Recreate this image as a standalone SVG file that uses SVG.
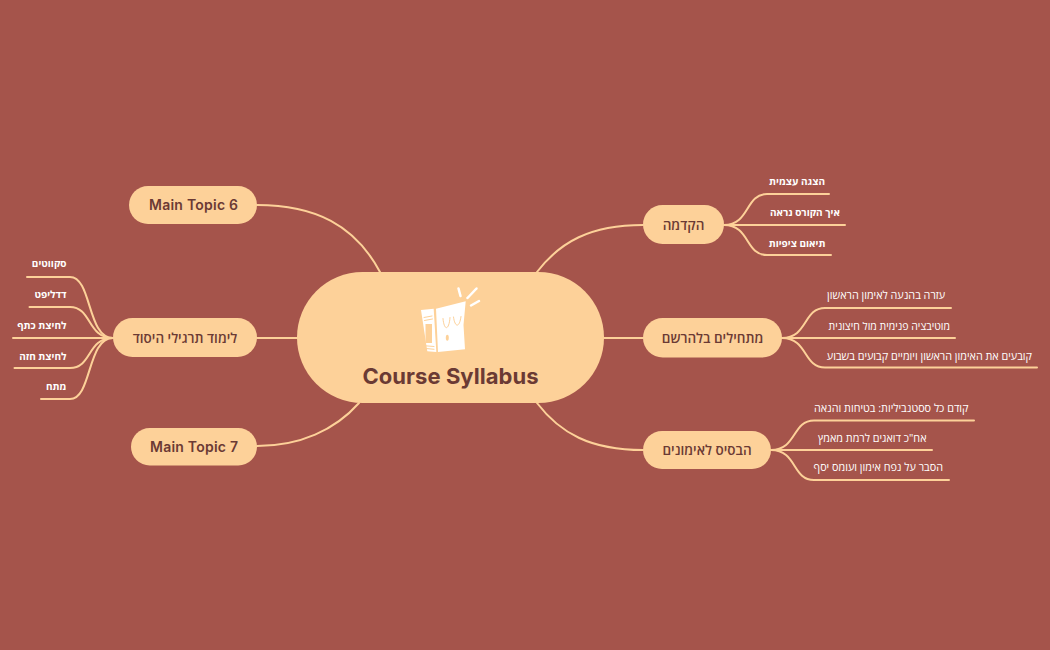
<svg xmlns="http://www.w3.org/2000/svg" width="1050" height="650" viewBox="0 0 1050 650">
<style>
.c{fill:none;stroke:#FDD199;stroke-width:2;stroke-linecap:round}
.b{fill:#FDD199}
.t{font-family:"Open Sans","Noto Sans","Liberation Sans",sans-serif;font-size:13.5px;font-weight:600;fill:#6B3A34;direction:rtl;text-anchor:middle}
.m{font-family:Inter,"Noto Sans",sans-serif;font-size:14px;font-weight:600;fill:#6B3A34;text-anchor:middle}
.l{font-family:"Open Sans","Noto Sans","Liberation Sans",sans-serif;font-size:10.800px;fill:#FFF;direction:rtl;text-anchor:start}
.lb{font-weight:700;font-size:10px}
.w{fill:#FFF}
.o{fill:none;stroke:#FDD199;stroke-width:1;stroke-linecap:round}
</style>
<rect width="1050" height="650" fill="#A5544B"/>
<g id="connectors">
<path class="c" d="M604 338H643"/>
<path class="c" d="M297 338H257"/>
<path class="c" d="M537 272C560 242 590 225 643 225"/>
<path class="c" d="M537 403C560 433 590 450 643 450"/>
<path class="c" d="M380 272C355 225 315 205 257 205"/>
<path class="c" d="M359 403C335 430 300 446 257 446"/>
<path class="c" d="M724 225C750 225 745 194 767 194H829"/>
<path class="c" d="M724 225H845"/>
<path class="c" d="M724 225C750 225 745 255 767 255H831"/>
<path class="c" d="M782 338C808 338 803 308 825 308H951"/>
<path class="c" d="M782 338H955"/>
<path class="c" d="M782 338C808 338 803 367.500 825 367.500H1037"/>
<path class="c" d="M771 450C797 450 792 420.500 814 420.500H974"/>
<path class="c" d="M771 450H932"/>
<path class="c" d="M771 450C797 450 792 480 814 480H949"/>
<path class="c" d="M113 338C87 338 92 277 70 277H27"/>
<path class="c" d="M113 338C87 338 92 307 70 307H29.500"/>
<path class="c" d="M113 338H13"/>
<path class="c" d="M113 338C87 338 92 368 70 368H14.500"/>
<path class="c" d="M113 338C87 338 92 399 70 399H41"/>
</g>
<g id="center">
<rect class="b" x="297" y="272" width="307" height="131" rx="65.500"/>
<polygon class="w" points="421,310 433.700,308.700 436.300,352 427.300,351.300"/>
<polygon class="w" points="436,308.700 465.700,301.300 463.500,325 465,349.300 438,352"/>
<g stroke="#FFF" stroke-width="2.500" stroke-linecap="round"><path d="M458.500 288.500L460.500 296"/><path d="M476.500 288.500L467.500 298"/><path d="M479 301L471 305.500"/></g>
<path class="o" d="M424 317.500L432 316M424.500 320.500L432.500 319M426 348.500L434 349.300M425.500 345.800L434 346.500"/>
<rect x="425.500" y="324" width="6.500" height="19" fill="#FDD199"/>
<path class="o" d="M443 318.500C444 331 449 331 450 317.500M453.500 317C455 328 459.500 328 461 316.500"/>
<ellipse cx="447.300" cy="337.700" rx="1.500" ry="3" fill="#FDD199"/>
<text x="450.500" y="384" font-family="Inter,'Noto Sans',sans-serif" font-size="22" font-weight="700" fill="#6B3A34" text-anchor="middle" textLength="176">Course Syllabus</text>
</g>
<g id="topic-intro"><rect class="b" x="643" y="205" width="81" height="39" rx="19.500"/><text class="t" x="683.500" y="230">הקדמה</text></g>
<g id="topic-start"><rect class="b" x="643" y="318" width="139" height="39.500" rx="19.700"/><text class="t" x="712.500" y="343">מתחילים בלהרשם</text></g>
<g id="topic-basis"><rect class="b" x="643" y="431" width="128" height="38" rx="19"/><text class="t" x="707" y="455">הבסיס לאימונים</text></g>
<g id="topic-fund"><rect class="b" x="113" y="318" width="144" height="39" rx="19.500"/><text class="t" x="185" y="343">לימוד תרגילי היסוד</text></g>
<g id="topic-6"><rect class="b" x="129" y="186" width="128" height="38" rx="19"/><text class="m" x="193.500" y="210" textLength="89">Main Topic 6</text></g>
<g id="topic-7"><rect class="b" x="131" y="428" width="126" height="37.500" rx="18.700"/><text class="m" x="194" y="452" textLength="88">Main Topic 7</text></g>
<g id="leaves">
<text class="l lb" x="825" y="185">הצגה עצמית</text>
<text class="l lb" x="840" y="216">איך הקורס נראה</text>
<text class="l lb" x="825.500" y="247">תיאום ציפיות</text>
<text class="l" x="945" y="299">עזרה בהנעה לאימון הראשון</text>
<text class="l" x="950" y="330" style="font-size:10.500px">מוטיבציה פנימית מול חיצונית</text>
<text class="l" x="1032" y="360">קובעים את האימון הראשון ויומיים קבועים בשבוע</text>
<text class="l" x="968.500" y="412">קודם כל ססטנביליות: בטיחות והנאה</text>
<text class="l" x="926.500" y="442">אח"כ דואגים לרמת מאמץ</text>
<text class="l" x="943" y="471">הסבר על נפח אימון ועומס יסף</text>
<text class="l lb" x="66.500" y="267">סקווטים</text>
<text class="l lb" x="66.500" y="298">דדליפט</text>
<text class="l lb" x="66.500" y="329">לחיצת כתף</text>
<text class="l lb" x="66.500" y="360">לחיצת חזה</text>
<text class="l lb" x="66.500" y="390">מתח</text>
</g>
</svg>
